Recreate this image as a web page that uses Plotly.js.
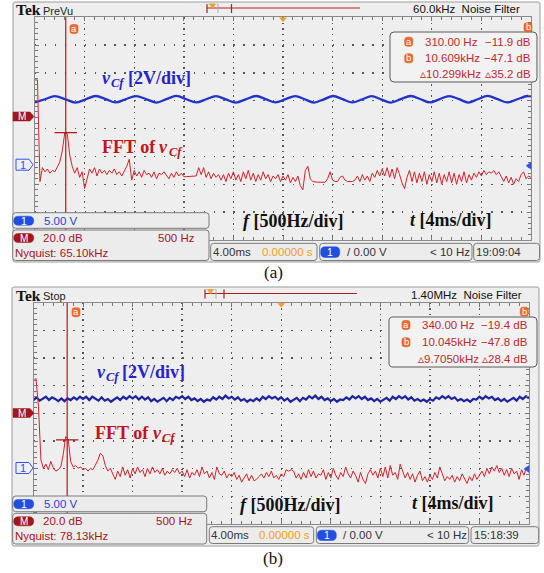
<!DOCTYPE html>
<html><head><meta charset="utf-8">
<script src="https://cdn.plot.ly/plotly-3.0.1.min.js"></script>
<style>html,body{margin:0;padding:0;background:#fff}#chart{width:544px;height:573px}</style>
</head><body><div id="chart"></div>
<script>
// ================= DATA =================
// Panel (a): v_Cf time waveform (time in ms, volts)
const timeA = [0,0.8,1.6,2.45,3.25,4.1,4.9,5.7,6.5,7.3,8.15,9.0,9.8,10.6,11.4,12.2,13.0,13.8,14.6,15.4,16.2,17.0,17.85,18.6,19.4,20.2,21.0,21.75,22.5,23.3,24.05,24.8,25.6,26.4,27.15,27.9,28.7,29.5,30.3,31.1,31.85,32.6,33.4,34.2,34.95,35.7,36.5,37.3,38.1,38.9,39.7,40];
const vcfA = [11.2,11.75,12.3,11.75,11.15,11.75,12.33,11.78,11.17,11.75,12.32,11.74,11.16,11.76,12.34,11.75,11.17,11.75,12.3,11.72,11.15,11.74,12.33,11.78,11.18,11.76,12.32,11.75,11.16,11.74,12.33,11.77,11.17,11.75,12.31,11.74,11.16,11.76,12.33,11.75,11.17,11.74,12.32,11.76,11.16,11.75,12.34,11.76,11.17,11.75,12.33,12.25];
// Panel (a): FFT of v_Cf (dB), bins from 0 Hz every 25 Hz
const fftStartHz = 0, fftStepHz = 25;
const fftA = [
 26,26,-47,-37,-40,-38,-41,-39,
 -40,-36,-33,-25,-12,-12.5,-28,-36,
 -41,-37,-44,-40,-52,-45,-38,-41,
 -37,-43,-38,-41,-39,-42,-39,-41,
 -38,-42,-40,-43,-40,-36,-31,-46,
 -39,-43,-40,-44,-39,-42,-41,-44,
 -40,-45,-41,-42,-40,-43,-45,-41,
 -44,-40,-43,-41,-43.5,-43.5,-43.5,-43.5,
 -43.5,-43,-37,-42,-37,-44,-40,-45,
 -41,-44,-42,-46,-42,-47,-41,-45,
 -40,-46,-42,-47,-40,-45,-39,-46,
 -41,-47,-42,-46,-40,-45,-42,-47,
 -43,-45,-42,-47,-43,-46,-42,-48,
 -44,-47,-43,-50,-53,-39,-36,-45,
 -47,-47.5,-47.5,-47.5,-47.5,-47.5,-45,-40,
 -46,-47,-47,-44,-43,-46,-47,-47,
 -47,-46,-43,-47,-42,-46,-43,-47,
 -41,-44,-39,-43,-38,-43,-37,-44,
 -38,-45,-37,-42,-48,-52,-44,-39,
 -47,-40,-48,-41,-47,-40,-49,-42,
 -47,-40,-48,-41,-49,-42,-47,-40,
 -48,-41,-49,-42,-47,-40,-48,-42,
 -46,-41,-44,-40,-43,-39,-42,-40,
 -41,-39,-42,-40,-44,-47,-43,-48,
 -44,-49,-45,-47,-42,-40,-45,-43,
 -44];
// Panel (b): v_Cf time waveform, samples from 0 ms every 0.25 ms (volts)
const timeStartB = 0, timeStepB = 0.25;
const vcfB = [
 12.3,12.8,12.2,12.6,12.9,12.3,12.8,12.5,
 12.1,12.6,12.1,12.6,12.3,12.8,12.4,12.9,
 12.5,12.9,12.3,12.9,12.6,12.2,12.8,12.2,
 12.5,12.0,12.4,12.8,12.3,12.9,12.5,13.0,
 12.6,13.0,12.4,12.9,12.4,12.8,12.1,12.5,
 12.0,12.4,12.7,12.1,12.7,12.3,12.9,12.6,
 13.0,12.5,12.9,12.3,12.6,12.1,12.5,12.0,
 12.4,12.2,12.8,12.4,12.9,12.5,13.1,12.6,
 12.9,12.4,12.8,12.2,12.5,12.0,12.4,12.1,
 12.6,12.2,12.9,12.5,13.0,12.6,12.9,12.4,
 12.8,12.2,12.6,12.0,12.4,12.7,12.1,12.7,
 12.4,13.0,12.6,13.1,12.5,12.9,12.3,12.6,
 12.1,12.5,12.0,12.4,12.3,12.8,12.4,13.0,
 12.6,13.0,12.5,12.9,12.3,12.6,12.1,12.5,
 12.0,12.4,12.7,12.2,12.9,12.5,13.0,12.6,
 13.0,12.4,12.8,12.2,12.5,12.1,12.4,12.0,
 12.5,12.2,12.8,12.5,13.0,12.6,13.0,12.5,
 12.8,12.2,12.5,12.1,12.4,12.0,12.5,12.4,
 12.9,12.5,13.0,12.6,12.9,12.3,12.6,12.1,
 12.5,12.0,12.4,12.7,12.2,12.9,12.5,13.0,
 12.6];
// Panel (b): FFT of v_Cf (dB), bins from 0 Hz every 25 Hz
const fftB = [
 23,25,5,-34,-40,-37,-41,-35,
 -40,-42,-41,-39,-30,-17,-19,-35,
 -39,-38,-40,-39,-41,-40,-42,-40,
 -41,-38,-34,-29,-31,-38,-42,-40,
 -44,-48,-42,-46,-39,-45,-41,-47,
 -40,-44,-39,-43,-41,-46,-40,-44,
 -39,-43,-41,-44,-40,-45,-42,-44,
 -41,-43,-40,-44,-42,-46,-41,-47,
 -43,-45,-41,-46,-39,-44,-42,-47,
 -43,-48,-39,-44,-45,-42,-47,-44,
 -46,-43,-48,-45,-50,-47,-44,-49,
 -45,-49,-48,-46,-44,-47,-43,-46,
 -42,-47,-45,-48,-44,-46,-41,-42,
 -41,-42,-47,-44,-48,-43,-47,-41,
 -46,-42,-47,-44,-45,-41,-48,-43,
 -47,-40,-45,-48,-43,-46,-39,-44,
 -47,-42,-45,-50,-43,-48,-51,-44,
 -41,-45,-42,-47,-40,-46,-39,-47,
 -38,-45,-43,-48,-37,-42,-47,-43,
 -48,-44,-50,-45,-42,-49,-46,-50,
 -45,-48,-43,-47,-39,-44,-49,-46,
 -48,-45,-50,-46,-49,-44,-47,-51,
 -46,-49,-44,-48,-45,-42,-46,-40,
 -44,-39,-42,-38,-43,-40,-45,-41,
 -46,-40,-44,-42,-48,-41,-45,-39,
 -42];
// Cursor a readings [Hz, dB]
const cursorA_a = [310, -11.9];
const cursorA_b = [340, -19.4];

// Readout texts: [cursor a, cursor b, delta]
const readA = [["310.00 Hz","\u221211.9 dB"],["10.609kHz","\u221247.1 dB"],["\u25B510.299kHz","\u25B535.2 dB"]];
const readB = [["340.00 Hz","\u221219.4 dB"],["10.045kHz","\u221247.8 dB"],["\u25B59.7050kHz","\u25B528.4 dB"]];

// ================= LAYOUT HELPERS =================
const W = 544, H = 573;
const px = x => x / W, py = y => 1 - y / H;
const SANS = "Liberation Sans Narrow, Arial Narrow, Liberation Sans, Arial, sans-serif";
const SERIF = "Liberation Serif, Times New Roman, serif";
const RED = '#d2232a', DRED = '#a3161c', BLUE = '#2233cc', ORANGE = '#f0a020';
const FS = 11.5;

const PA = {l:35, r:531, t:17.3, b:240};
const PB = {l:33.5, r:529, t:302.7, b:524};
const dom = P => ({x:[px(P.l), px(P.r)], y:[py(P.b), py(P.t)]});
const DA = dom(PA), DB = dom(PB);

function gridX(P, D, anchor) {
  const vp = (P.b - P.t) / 40;
  return {domain:D.x, anchor, range:[0,40], tick0:0, dtick:4, showticklabels:false,
    ticks:'inside', ticklen:4, tickcolor:'#777', tickwidth:1,
    showline:true, linecolor:'#8a8a8a', linewidth:1, mirror:'allticks',
    showgrid:true, gridcolor:'#555', gridwidth:1.4, griddash:'1.4px,' + (vp-1.4).toFixed(2) + 'px',
    zeroline:false, fixedrange:true,
    minor:{tick0:0, dtick:0.8, ticks:'inside', ticklen:3, tickcolor:'#777', showgrid:false}};
}
function gridY(P, D, anchor, range) {
  const hp = (P.r - P.l) / 50;
  return {domain:D.y, anchor, range, tick0:range[0], dtick:5, showticklabels:false,
    ticks:'inside', ticklen:4, tickcolor:'#777', tickwidth:1,
    showline:true, linecolor:'#8a8a8a', linewidth:1, mirror:'allticks',
    showgrid:true, gridcolor:'#555', gridwidth:1.4, griddash:'1.4px,' + (hp-1.4).toFixed(2) + 'px',
    zeroline:false, fixedrange:true,
    minor:{tick0:range[0], dtick:1, ticks:'inside', ticklen:3, tickcolor:'#777', showgrid:false}};
}
const hidden = (over, range) => ({overlaying:over, range, visible:false, fixedrange:true});
function centerX(over, P) {
  const cy = (P.t + P.b) / 2;
  return {overlaying:over, anchor:'free', position:py(cy + 2), range:[0,40], tick0:0, dtick:0.8,
    ticks:'inside', ticklen:4, tickcolor:'#666', showticklabels:false, showgrid:false, showline:false, zeroline:false, fixedrange:true};
}
function centerY(over, P, range) {
  const cx = (P.l + P.r) / 2;
  return {overlaying:over, anchor:'free', side:'left', position:px(cx - 2), range, tick0:range[0], dtick:1,
    ticks:'inside', ticklen:4, tickcolor:'#666', showticklabels:false, showgrid:false, showline:false, zeroline:false, fixedrange:true};
}

const VA = [-13.52, 26.46], DBA = [-89.0, 71.0];
const VB = [-10.1, 29.9], DBB = [-80.26, 79.75];

// shapes
const shapes = [];
const P2 = (x,y) => px(x).toFixed(5) + ',' + py(y).toFixed(5);
function rrect(x0,y0,x1,y1,r,fill,line,lw,layer) {
  const d = 'M' + P2(x0+r,y0) + ' L' + P2(x1-r,y0) + ' Q' + P2(x1,y0) + ' ' + P2(x1,y0+r) +
    ' L' + P2(x1,y1-r) + ' Q' + P2(x1,y1) + ' ' + P2(x1-r,y1) + ' L' + P2(x0+r,y1) +
    ' Q' + P2(x0,y1) + ' ' + P2(x0,y1-r) + ' L' + P2(x0,y0+r) + ' Q' + P2(x0,y0) + ' ' + P2(x0+r,y0) + ' Z';
  shapes.push({type:'path', xref:'paper', yref:'paper', path:d, fillcolor:fill,
    line:{color:line || fill, width:lw === undefined ? 1 : lw}, layer:layer || 'above'});
}
function poly(pts, fill, line, lw) {
  shapes.push({type:'path', xref:'paper', yref:'paper',
    path:'M' + pts.map(p => P2(p[0],p[1])).join(' L') + ' Z', fillcolor:fill,
    line:{color:line || fill, width:lw || 0.5}, layer:'above'});
}
function seg(x0,y0,x1,y1,color,w) {
  shapes.push({type:'line', xref:'paper', yref:'paper', x0:px(x0), y0:py(y0), x1:px(x1), y1:py(y1),
    line:{color, width:w || 1}, layer:'above'});
}

// annotations
const ann = [];
function txt(x, y, text, o) {
  o = o || {};
  ann.push({xref:'paper', yref:'paper', x:px(x), y:py(y), text, showarrow:false,
    xanchor:o.xa || 'left', yanchor:'middle', borderpad:0,
    font:{family:o.fam || SANS, size:o.size || FS, color:o.color || '#222'}});
}
function chip(x, y, letter) {
  rrect(x - 4, y - 4.5, x + 4, y + 4.5, 2.5, '#f06a2c', '#e0561a', 0.6);
  txt(x, y - 0.5, letter, {xa:'center', size:9.5, color:'#ffffff'});
}
function vcf(x, y, color) {   // italic v with subscript Cf
  txt(x, y, '<b><i>v</i></b>', {fam:SERIF, size:18, color});
  txt(x + 9.5, y + 5, '<b><i>Cf</i></b>', {fam:SERIF, size:12.5, color});
}

// ---- frames (below plot background) ----
rrect(13, 2, 540, 262, 2, '#eeeeee', '#9c9c9c', 1, 'below');
rrect(12, 287, 539, 546, 2, '#eeeeee', '#9c9c9c', 1, 'below');

// ---- cursor lines ----
shapes.push({type:'line', xref:'x2', yref:'y domain', x0:cursorA_a[0], x1:cursorA_a[0], y0:0, y1:1, line:{color:'#b3151b', width:1.2}, layer:'above'});
shapes.push({type:'line', xref:'x4', yref:'y3 domain', x0:cursorA_b[0], x1:cursorA_b[0], y0:0, y1:1, line:{color:'#b3151b', width:1.2}, layer:'above'});

function panelDecor(o) {
  const {P, trigX, lineEnd, tickX, hdrY, info, name, ready,
    gnd, mY, rdBox, rdRows, rdLeft, rdLeft3, rdRight, rdIcon, curIconA, curIconB,
    box1, box2, st, nyq, clock, lab} = o;
  // header
  txt(15, hdrY, '<b>Tek</b>', {fam:SERIF, size:15.5, color:'#111'});
  txt(42, hdrY + 1, name, {size:11, color:'#222'});
  txt(info[0], hdrY, info[1], {size:11.5, color:'#111'});
  // record bar
  seg(trigX, hdrY - 1.5, lineEnd, hdrY - 1.5, '#b01e1e', 1.2);
  seg(trigX, hdrY - 5.5, trigX, hdrY + 3.5, '#b01e1e', 1.2);
  seg(trigX + 11, hdrY - 5.5, trigX + 11, hdrY + 3.5, '#aaa', 1);
  seg(trigX, hdrY - 5.5, trigX + 11, hdrY - 5.5, '#ccc', 1);
  poly([[trigX + 2.5, hdrY - 5.5], [trigX + 8.5, hdrY - 5.5], [trigX + 5.5, hdrY - 1]], ORANGE);
  seg(tickX, hdrY - 5.5, tickX, hdrY + 3.5, '#b01e1e', 1.2);
  // trigger position marker at grid top
  const cx = (P.l + P.r) / 2;
  poly([[cx - 3.5, P.t + 0.5], [cx + 3.5, P.t + 0.5], [cx, P.t + 4.5]], ORANGE);
  // left markers
  poly([[13, mY - 4.5], [30, mY - 4.5], [34, mY], [30, mY + 4.5], [13, mY + 4.5]], '#a3161c');
  txt(21.5, mY, 'M', {xa:'center', size:10, color:'#fff'});
  poly([[16, gnd - 5.5], [29, gnd - 5.5], [33, gnd], [29, gnd + 5.5], [16, gnd + 5.5]], '#eef0ff', '#3455e0', 1);
  txt(22.5, gnd, '1', {xa:'center', size:11, color:'#3455e0'});
  poly([[P.r - 5, gnd + 1], [P.r, gnd - 2.5], [P.r, gnd + 4.5]], '#2e55e6');
  // readout box
  rrect(rdBox[0], rdBox[1], rdBox[2], rdBox[3], 4, '#f2f2f2', '#5a5a5a', 1);
  [0, 1, 2].forEach(i => {
    txt(i === 2 ? rdLeft3 : rdLeft, rdRows[i], ready[i][0], {size:FS, color:'#c0282d'});
    txt(rdRight, rdRows[i], ready[i][1], {xa:'right', size:FS, color:'#c0282d'});
  });
  chip(rdIcon, rdRows[0], 'a');
  chip(rdIcon, rdRows[1], 'b');
  chip(curIconA[0], curIconA[1], 'a');
  chip(curIconB[0], curIconB[1], 'b');
  // bottom-left boxes
  rrect(box1[0], box1[1], box1[2], box1[3], 3, '#ececec', '#7a7a7a', 1);
  rrect(box1[0] + 1, box1[1] + 3.5, box1[0] + 21, box1[3] - 3, 4.5, '#1f4fe0', '#1f4fe0', 0.5);
  txt(box1[0] + 11, (box1[1] + box1[3]) / 2 + 0.3, '1', {xa:'center', size:10.5, color:'#fff'});
  txt(box1[0] + 30, (box1[1] + box1[3]) / 2, '5.00 V', {size:FS, color:'#2a40d8'});
  rrect(box2[0], box2[1], box2[2], box2[3], 3, '#ececec', '#7a7a7a', 1);
  const r1 = box2[1] + 8;
  rrect(box2[0] + 1, r1 - 4.5, box2[0] + 21, r1 + 4.5, 4.5, '#a3161c', '#a3161c', 0.5);
  txt(box2[0] + 11, r1, 'M', {xa:'center', size:10, color:'#fff'});
  txt(box2[0] + 29, r1, '20.0 dB', {size:FS, color:DRED});
  txt(box2[2] - 13, r1, '500 Hz', {xa:'right', size:FS, color:DRED});
  txt(box2[0] + 1, r1 + 15, nyq, {size:FS, color:DRED});
  // status bar
  const sy0 = st.y0, sy1 = st.y1, sm = (sy0 + sy1) / 2;
  rrect(st.a0, sy0, st.a1, sy1, 3, '#ececec', '#7a7a7a', 1);
  txt(st.a0 + 1, sm, '4.00ms', {size:FS, color:'#333'});
  txt(st.a1 - 3, sm, '0.00000 s', {xa:'right', size:FS, color:ORANGE});
  rrect(st.b0, sy0, st.b1, sy1, 3, '#ececec', '#7a7a7a', 1);
  rrect(st.b0 + 1, sy0 + 3.5, st.b0 + 20, sy1 - 3, 4.5, '#1f4fe0', '#1f4fe0', 0.5);
  txt(st.b0 + 10.5, sm + 0.3, '1', {xa:'center', size:10.5, color:'#fff'});
  txt(st.b0 + 26, sm, '/ 0.00 V', {size:FS, color:'#333'});
  txt(st.b1 - 1, sm, '< 10 Hz', {xa:'right', size:FS, color:'#333'});
  rrect(st.c0, sy0, st.c1, sy1, 3, '#ececec', '#7a7a7a', 1);
  txt(st.c0 + 1.5, sm, clock, {size:FS, color:'#333'});
  // overlay labels
  vcf(lab.v[0], lab.v[1], '#2424c8');
  txt(lab.v[0] + lab.vOff, lab.v[1], '<b>[2V/div]</b>', {fam:SERIF, size:18, color:'#2424c8'});
  txt(lab.fft[0], lab.fft[1], '<b>FFT of</b>', {fam:SERIF, size:18, color:'#c0141e'});
  vcf(lab.fft[0] + 57.5, lab.fft[1], '#c0141e');
  txt(lab.f[0], lab.f[1], '<b><i>f</i> [500Hz/div]</b>', {fam:SERIF, size:18, color:'#111'});
  txt(lab.t[0], lab.t[1], '<b><i>t</i> [4ms/div]</b>', {fam:SERIF, size:18, color:'#111'});
  txt(273, lab.cap, lab.capText, {xa:'center', fam:SERIF, size:17, color:'#111'});
}

panelDecor({P:PA, trigX:207, lineEnd:360, tickX:231.5, hdrY:9.5, info:[412, '60.0kHz&nbsp; Noise Filter'], name:'PreVu', ready:readA,
  gnd:164.7, mY:116.5, rdBox:[390, 32, 537, 82], rdRows:[41.7, 58.3, 73.8], rdLeft:423.5, rdLeft3:418.5, rdRight:531.5, rdIcon:408.7,
  curIconA:[74, 29], curIconB:[528, 27.3],
  box1:[12.7, 212.7, 209, 228.3], box2:[12.7, 230, 209, 260.5], st:{y0:243.3, y1:260.5, a0:210.7, a1:317, b0:319.7, b1:472, c0:473.7, c1:539.5},
  nyq:'Nyquist: 65.10kHz', clock:'19:09:04',
  lab:{v:[100.5, 78], vOff:26.5, fft:[100.5, 147], f:[242, 221], t:[409, 220], cap:272, capText:'(a)'}});
panelDecor({P:PB, trigX:205, lineEnd:357, tickX:224, hdrY:295, info:[410, '1.40MHz&nbsp; Noise Filter'], name:'Stop', ready:readB,
  gnd:468, mY:413, rdBox:[389, 317, 537, 367], rdRows:[325, 342.3, 359.3], rdLeft:421, rdLeft3:416.5, rdRight:529, rdIcon:406,
  curIconA:[76, 312.3], curIconB:[524.3, 311.7],
  box1:[12.7, 496, 206.7, 511.7], box2:[12.7, 513.3, 206.7, 544], st:{y0:526.7, y1:543.5, a0:209.3, a1:313.7, b0:316.3, b1:468.7, c0:471, c1:538.7},
  nyq:'Nyquist: 78.13kHz', clock:'15:18:39',
  lab:{v:[95.5, 371.7], vOff:25.5, fft:[94, 433], f:[239, 505], t:[411, 503], cap:558, capText:'(b)'}});

// ================= TRACES =================
const traces = [
  {type:'scatter', mode:'lines', x:timeA, y:vcfA, xaxis:'x', yaxis:'y', line:{color:BLUE, width:2.3, shape:'spline', smoothing:1}, hoverinfo:'skip'},
  {type:'scatter', mode:'lines', x0:fftStartHz, dx:fftStepHz, y:fftA, xaxis:'x2', yaxis:'y2', line:{color:RED, width:1}, hoverinfo:'skip'},
  {type:'scatter', mode:'markers', x:[cursorA_a[0]], y:[cursorA_a[1]], xaxis:'x2', yaxis:'y2', marker:{symbol:'line-ew', size:16, line:{color:'#b3151b', width:1.2}}, hoverinfo:'skip'},
  {type:'scatter', mode:'lines', x0:timeStartB, dx:timeStepB, y:vcfB, xaxis:'x3', yaxis:'y3', line:{color:'#1c249e', width:2.2}, hoverinfo:'skip'},
  {type:'scatter', mode:'lines', x0:fftStartHz, dx:fftStepHz, y:fftB, xaxis:'x4', yaxis:'y4', line:{color:RED, width:1}, hoverinfo:'skip'},
  {type:'scatter', mode:'markers', x:[cursorA_b[0]], y:[cursorA_b[1]], xaxis:'x4', yaxis:'y4', marker:{symbol:'line-ew', size:16, line:{color:'#b3151b', width:1.2}}, hoverinfo:'skip'}
];

const layout = {
  width:W, height:H, margin:{l:0, r:0, t:0, b:0}, showlegend:false,
  paper_bgcolor:'#ffffff', plot_bgcolor:'#ffffff',
  xaxis: gridX(PA, DA, 'y'), yaxis: gridY(PA, DA, 'x', VA),
  xaxis2: Object.assign(hidden('x', [0, 5000]), {anchor:'y'}), yaxis2: Object.assign(hidden('y', DBA), {anchor:'x'}),
  xaxis3: gridX(PB, DB, 'y3'), yaxis3: gridY(PB, DB, 'x3', VB),
  xaxis4: Object.assign(hidden('x3', [0, 5000]), {anchor:'y3'}), yaxis4: Object.assign(hidden('y3', DBB), {anchor:'x3'}),
  xaxis5: centerX('x', PA), yaxis5: centerY('y', PA, VA),
  xaxis6: centerX('x3', PB), yaxis6: centerY('y3', PB, VB),
  shapes, annotations:ann
};

Plotly.newPlot('chart', traces, layout, {displayModeBar:false, staticPlot:true});
</script>
</body></html>
